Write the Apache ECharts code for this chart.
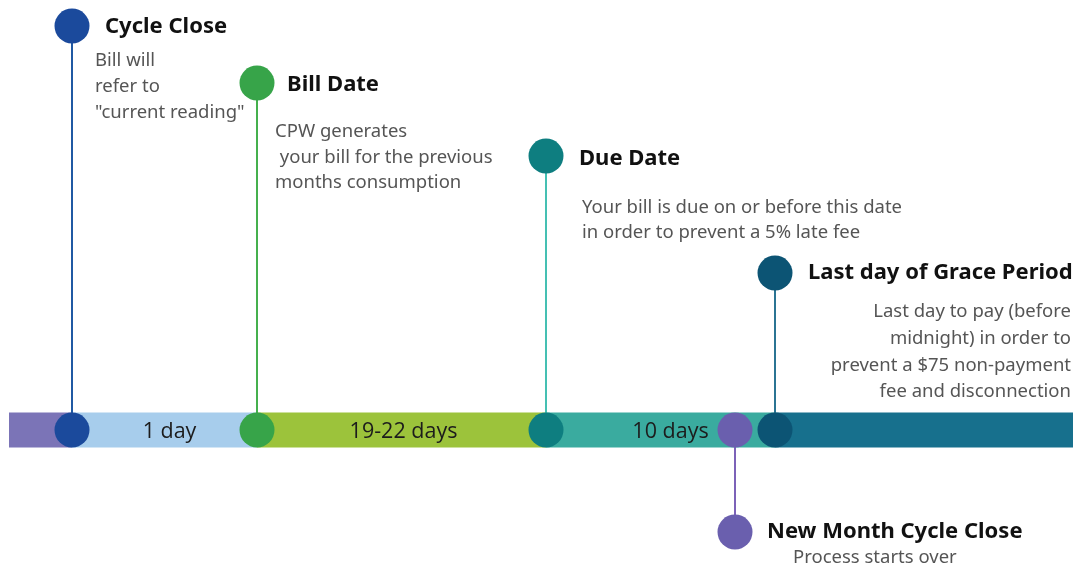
<!DOCTYPE html>
<html><head><meta charset="utf-8">
<script src="https://cdn.jsdelivr.net/npm/echarts@6/dist/echarts.min.js"></script>
<style>html,body{margin:0;padding:0;background:#fff}#c{width:1078px;height:570px}</style>
</head><body><div id="c"></div>
<script>
// ---- Data ----
const segmentLabels = ['', '1 day', '19-22 days', '10 days', ''];
const segmentStarts = [9, 72, 257, 546, 775];
const segmentEnds = [72, 257, 546, 775, 1073];

const milestoneNames = ['Cycle Close', 'Bill Date', 'Due Date', 'New Month Cycle Close', 'Last day of Grace Period'];
const milestonePos = [72, 257, 546, 735, 775];
const milestoneLevel = [26, 83, 156, 532, 273];
const milestoneNotes = [
  ['Bill will', 'refer to', '"current reading"'],
  ['CPW generates', ' your bill for the previous', 'months consumption'],
  ['Your bill is due on or before this date', 'in order to prevent a 5% late fee'],
  ['Process starts over'],
  ['Last day to pay (before', 'midnight) in order to', 'prevent a $75 non-payment', 'fee and disconnection']
];
const timelineLevel = 430;

// ---- Styles ----
const segmentColors = ['#7b74b7', '#a7cdec', '#9cc33b', '#3aab9f', '#17708d'];
const segmentLabelDx = [0, 5, 2, 10, 0];
const dotColors = ['#1b4a9c', '#37a449', '#0e7e80', '#6a5fae', '#0c5474'];
const stemColors = ['#2059a3', '#45b04d', '#45c0b3', '#7c62b8', '#2b7493'];
const layout = [
  {tdx: 33, tdy: 1, ndx: 23, ndy: 35, lh: 26, align: 'left'},
  {tdx: 30, tdy: 2, ndx: 18, ndy: 49, lh: 25.5, align: 'left'},
  {tdx: 33, tdy: 3, ndx: 36, ndy: 52, lh: 25, align: 'left'},
  {tdx: 32, tdy: 0, ndx: 58, ndy: 26, lh: 26, align: 'left'},
  {tdx: 33, tdy: 0, ndx: 296, ndy: 39, lh: 26.7, align: 'right'}
];
const BAR_H = 35, DOT_R = 17.5;

const chart = echarts.init(document.getElementById('c'));

const segData = segmentLabels.map((l, i) => [segmentStarts[i], segmentEnds[i], i]);
const msData = milestoneNames.map((n, i) => [milestonePos[i], milestoneLevel[i], i]);

chart.setOption({
  animation: false,
  backgroundColor: '#ffffff',
  grid: {left: 0, right: 0, top: 0, bottom: 0},
  xAxis: {type: 'value', min: 0, max: 1078, show: false},
  yAxis: {type: 'value', min: 0, max: 570, inverse: true, show: false},
  series: [
    {
      type: 'custom', z: 1,
      data: segData,
      renderItem: (params, api) => {
        const i = api.value(2);
        const a = api.coord([api.value(0), timelineLevel]);
        const b = api.coord([api.value(1), timelineLevel]);
        const children = [{
          type: 'rect',
          shape: {x: a[0], y: a[1] - BAR_H / 2, width: b[0] - a[0], height: BAR_H},
          style: {fill: segmentColors[i]}
        }];
        if (segmentLabels[i]) {
          children.push({
            type: 'text', z2: 20,
            style: {
              x: (a[0] + b[0]) / 2 + segmentLabelDx[i], y: a[1] + 2,
              text: segmentLabels[i], fill: '#1c1c1c',
              font: '21.5px "Open Sans"', align: 'center', verticalAlign: 'middle'
            }
          });
        }
        return {type: 'group', children};
      }
    },
    {
      type: 'custom', z: 2,
      data: msData,
      renderItem: (params, api) => {
        const i = api.value(2);
        const top = api.coord([api.value(0), api.value(1)]);
        const base = api.coord([api.value(0), timelineLevel]);
        const L = layout[i];
        const children = [
          {type: 'line', shape: {x1: top[0], y1: top[1], x2: base[0], y2: base[1]},
           style: {stroke: stemColors[i], lineWidth: 2}},
          {type: 'circle', shape: {cx: base[0], cy: base[1], r: DOT_R}, style: {fill: dotColors[i]}},
          {type: 'circle', shape: {cx: top[0], cy: top[1], r: DOT_R}, style: {fill: dotColors[i]}},
          {type: 'text', style: {
            x: top[0] + L.tdx, y: top[1] + L.tdy, text: milestoneNames[i],
            fill: '#111', font: 'bold 22px "Noto Sans"', align: 'left', verticalAlign: 'middle'}}
        ];
        milestoneNotes[i].forEach((t, k) => {
          children.push({type: 'text', style: {
            x: top[0] + L.ndx, y: top[1] + L.ndy + k * L.lh, text: t,
            fill: '#555', font: '18.5px "Noto Sans"', align: L.align, verticalAlign: 'middle'}});
        });
        return {type: 'group', children};
      }
    }
  ]
});
</script>
</body></html>
